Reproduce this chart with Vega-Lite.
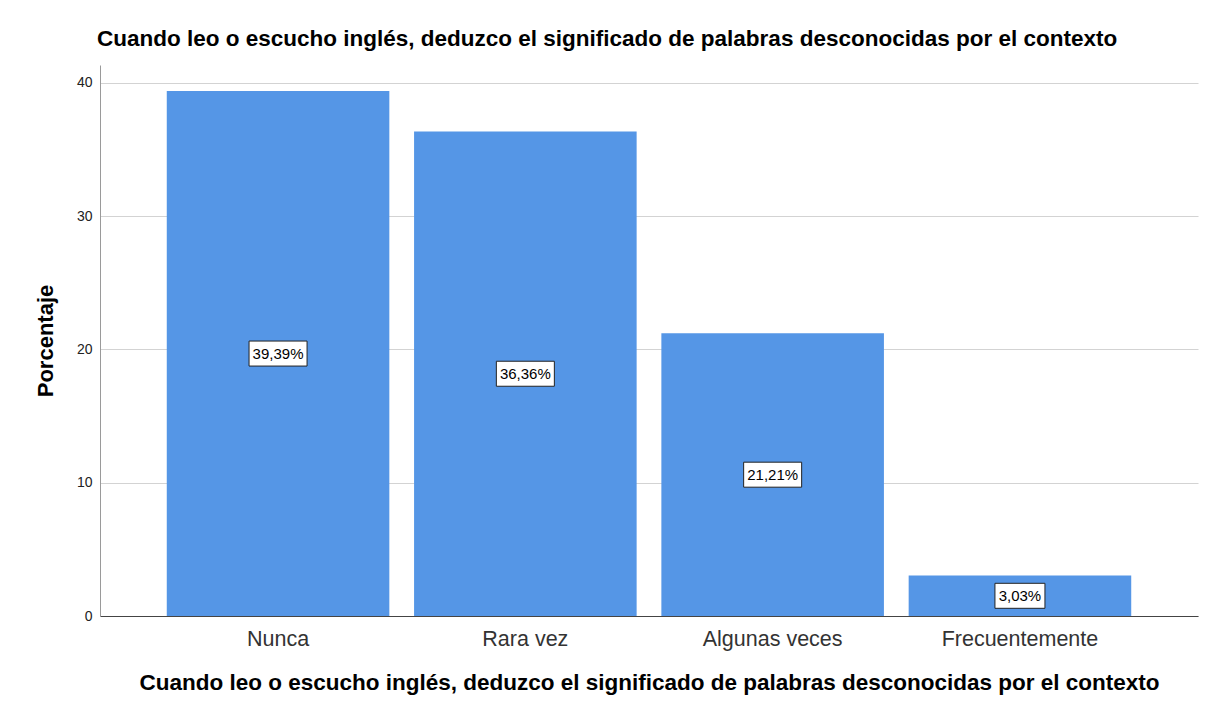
{
  "$schema": "https://vega.github.io/schema/vega-lite/v6.json",
  "width": 1098,
  "height": 551,
  "autosize": "none",
  "padding": {"left": 100, "top": 65, "right": 8, "bottom": 93},
  "background": "white",
  "title": {
    "text": "Cuando leo o escucho inglés, deduzco el significado de palabras desconocidas por el contexto",
    "anchor": "start",
    "frame": "group",
    "font": "Liberation Sans",
    "fontSize": 22.5,
    "fontWeight": "bold",
    "color": "#000000",
    "baseline": "alphabetic",
    "offset": 19,
    "dy": 22,
    "dx": -3
  },
  "data": {
    "values": [
      {"Respuesta": "Nunca", "Porcentaje": 39.39, "Etiqueta": "39,39%"},
      {"Respuesta": "Rara vez", "Porcentaje": 36.36, "Etiqueta": "36,36%"},
      {"Respuesta": "Algunas veces", "Porcentaje": 21.21, "Etiqueta": "21,21%"},
      {"Respuesta": "Frecuentemente", "Porcentaje": 3.03, "Etiqueta": "3,03%"}
    ]
  },
  "encoding": {
    "x": {
      "field": "Respuesta",
      "type": "nominal",
      "sort": null,
      "scale": {"paddingInner": 0.1, "paddingOuter": 0.27},
      "title": "Cuando leo o escucho inglés, deduzco el significado de palabras desconocidas por el contexto",
      "axis": {
        "labelAngle": 0,
        "labelFont": "Liberation Sans",
        "labelFontSize": 21.5,
        "labelColor": "#333333",
        "labelPadding": 12,
        "ticks": false,
        "tickSize": 0,
        "grid": false,
        "domainColor": "#444444",
        "domainWidth": 1,
        "titleFont": "Liberation Sans",
        "titleFontSize": 22.5,
        "titleFontWeight": "bold",
        "titleColor": "#000000",
        "titlePadding": 22
      }
    }
  },
  "layer": [
    {
      "mark": {"type": "bar", "color": "#5596E6"},
      "encoding": {
        "y": {
          "field": "Porcentaje",
          "type": "quantitative",
          "scale": {"domain": [0, 41.35], "nice": false},
          "title": "Porcentaje",
          "axis": {
            "values": [0, 10, 20, 30, 40],
            "grid": true,
            "gridColor": "#d3d3d3",
            "gridWidth": 1.2,
            "domainColor": "#9a9a9a",
            "ticks": false,
            "tickSize": 0,
            "labelFont": "Liberation Sans",
            "labelFontSize": 14,
            "labelColor": "#222222",
            "labelPadding": 8,
            "titleFont": "Liberation Sans",
            "titleFontSize": 22,
            "titleFontWeight": "bold",
            "titleColor": "#000000",
            "titlePadding": 19
          }
        }
      }
    },
    {
      "encoding": {
        "y": {
          "field": "Porcentaje",
          "type": "quantitative",
          "scale": {"domain": [0, 82.7], "nice": false},
          "axis": null
        }
      },
      "layer": [
        {
          "mark": {"type": "point", "fill": "white", "stroke": "#222222", "strokeWidth": 1, "opacity": 1, "fillOpacity": 1},
          "encoding": {
            "shape": {"condition": {"test": "datum.Porcentaje < 10", "value": "M-1,-0.5H1V0.5H-1Z"}, "value": "M-1,-0.431H1V0.431H-1Z"},
            "size": {"condition": {"test": "datum.Porcentaje < 10", "value": 2500}, "value": 3364}
          }
        },
        {
          "mark": {"type": "text", "font": "Liberation Sans", "fontSize": 15, "color": "#000000", "baseline": "middle", "align": "center"},
          "encoding": {"text": {"field": "Etiqueta", "type": "nominal"}}
        }
      ]
    }
  ],
  "resolve": {"scale": {"y": "independent"}},
  "config": {"view": {"stroke": null}}
}
